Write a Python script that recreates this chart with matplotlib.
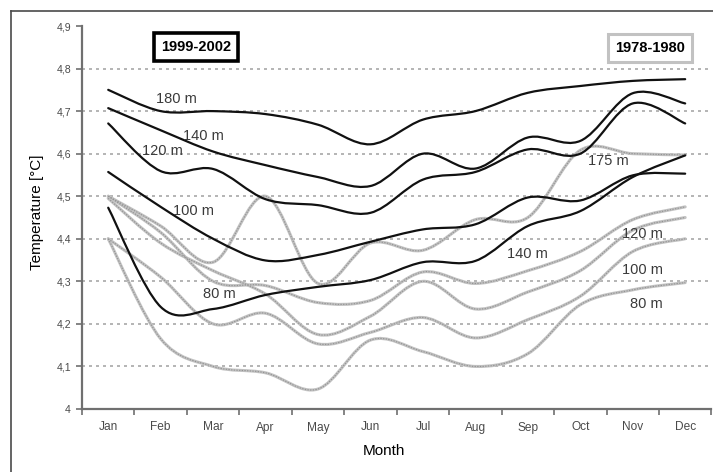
import numpy as np
import matplotlib.pyplot as plt
from matplotlib.path import Path
from matplotlib.patches import PathPatch
from matplotlib.lines import Line2D

plt.rcParams['font.family'] = ['Liberation Sans', 'DejaVu Sans']

months = ['Jan', 'Feb', 'Mar', 'Apr', 'May', 'Jun', 'Jul', 'Aug', 'Sep', 'Oct', 'Nov', 'Dec']
y_ticks = [4.0, 4.1, 4.2, 4.3, 4.4, 4.5, 4.6, 4.7, 4.8, 4.9]
y_ticklabels = ['4', '4,1', '4,2', '4,3', '4,4', '4,5', '4,6', '4,7', '4,8', '4,9']

# 1999-2002, monthly mean temperature by depth
new_180 = [4.750, 4.700, 4.700, 4.693, 4.668, 4.622, 4.680, 4.700, 4.743, 4.759, 4.771, 4.775]
new_140 = [4.707, 4.655, 4.605, 4.573, 4.545, 4.524, 4.600, 4.565, 4.638, 4.630, 4.742, 4.718]
new_120 = [4.671, 4.559, 4.564, 4.493, 4.479, 4.461, 4.539, 4.557, 4.610, 4.600, 4.718, 4.671]
new_100 = [4.557, 4.475, 4.400, 4.349, 4.362, 4.393, 4.422, 4.434, 4.497, 4.490, 4.549, 4.553]
new_80 = [4.473, 4.240, 4.235, 4.268, 4.287, 4.303, 4.345, 4.348, 4.430, 4.465, 4.545, 4.596]

# 1978-1980
old_175 = [4.500, 4.430, 4.345, 4.500, 4.295, 4.390, 4.373, 4.445, 4.450, 4.608, 4.600, 4.597]
old_140 = [4.500, 4.415, 4.300, 4.290, 4.250, 4.255, 4.322, 4.295, 4.325, 4.370, 4.445, 4.475]
old_120 = [4.495, 4.390, 4.325, 4.270, 4.175, 4.218, 4.300, 4.235, 4.275, 4.325, 4.420, 4.450]
old_100 = [4.400, 4.310, 4.200, 4.225, 4.153, 4.180, 4.215, 4.167, 4.210, 4.265, 4.370, 4.400]
old_80 = [4.400, 4.165, 4.100, 4.085, 4.047, 4.162, 4.135, 4.100, 4.130, 4.245, 4.280, 4.297]

new_series = [new_180, new_140, new_120, new_100, new_80]
old_series = [old_175, old_140, old_120, old_100, old_80]

new_labels = [('180 m', 1.31, 4.728), ('140 m', 1.82, 4.641), ('120 m', 1.03, 4.606),
              ('100 m', 1.62, 4.465), ('80 m', 2.12, 4.270)]
old_labels = [('175 m', 9.53, 4.582), ('140 m', 7.99, 4.364), ('120 m', 10.18, 4.411),
              ('100 m', 10.18, 4.326), ('80 m', 10.26, 4.246)]


def smooth_path(ys):
    # bezier curve through the monthly points (spreadsheet-style smoothed line)
    xs = np.arange(len(ys), dtype=float)
    pts = np.column_stack([xs, ys])
    ext = np.vstack([pts[0], pts, pts[-1]])
    verts = [pts[0]]
    codes = [Path.MOVETO]
    for i in range(len(pts) - 1):
        p0, p1, p2, p3 = ext[i], ext[i + 1], ext[i + 2], ext[i + 3]
        verts += [p1 + (p2 - p0) / 6, p2 - (p3 - p1) / 6, p2]
        codes += [Path.CURVE4] * 3
    return Path(verts, codes)


fig = plt.figure(figsize=(7.13, 4.72), dpi=100)
ax = fig.add_axes([82 / 713, 1 - 409 / 472, (711.4 - 82) / 713, 383 / 472])

for ys in old_series:
    p = smooth_path(ys)
    ax.add_patch(PathPatch(p, fill=False, edgecolor='#c2c2c2', lw=2.2,
                           capstyle='round', joinstyle='round', zorder=2))
    ax.add_patch(PathPatch(p, fill=False, edgecolor='#939393', lw=0.8,
                           linestyle=(0, (1.2, 1.2)), zorder=2.1))

for ys in new_series:
    ax.add_patch(PathPatch(smooth_path(ys), fill=False, edgecolor='#111111', lw=1.6,
                           capstyle='round', joinstyle='round', zorder=3))

for txt, x, y in new_labels + old_labels:
    ax.text(x, y, txt, fontsize=10.5, color='#3a3a3a', ha='center', va='center', zorder=4)

ax.set_xlim(-0.5, 11.5)
ax.set_ylim(4.0, 4.9)

ax.set_xticks(np.arange(-0.5, 12, 1))
ax.set_xticklabels([])
ax.set_xticks(range(12), labels=months, minor=True)
ax.tick_params(axis='x', which='major', length=4, width=1.2, color='#707070', direction='out')
ax.tick_params(axis='x', which='minor', length=0, pad=9, labelsize=8.6, labelcolor='#4a4a4a')

ax.set_yticks(y_ticks, labels=y_ticklabels)
ax.tick_params(axis='y', length=4, width=1.2, color='#707070', direction='out',
               pad=4, labelsize=7.6, labelcolor='#4a4a4a')

ax.grid(axis='y', color='#a8a8a8', lw=1.2, linestyle=(0, (1.8, 2.4)), zorder=0)
gl = ax.get_ygridlines()
gl[0].set_visible(False)
gl[-1].set_visible(False)
ax.set_axisbelow(True)

for side in ['top', 'right']:
    ax.spines[side].set_visible(False)
for side in ['left', 'bottom']:
    ax.spines[side].set_color('#707070')
    ax.spines[side].set_linewidth(1.6)

fig.text(384 / 713, 1 - 451 / 472, 'Month', fontsize=11, ha='center', va='center')
fig.text(37 / 713, 1 - 212 / 472, 'Temperature [°C]', fontsize=11, rotation=90,
         ha='center', va='center')

fig.text(196 / 713, 1 - 47 / 472, '1999-2002', fontsize=10.5, fontweight='bold',
         ha='center', va='center',
         bbox=dict(boxstyle='square,pad=0.5', fc='white', ec='black', lw=2.6))
fig.text(650 / 713, 1 - 48 / 472, '1978-1980', fontsize=10.5, fontweight='bold',
         ha='center', va='center',
         bbox=dict(boxstyle='square,pad=0.5', fc='white', ec='#c2c2c2', lw=2.2))

# outer chart border
fig.add_artist(Line2D([11 / 713, 11 / 713], [0, 1 - 11 / 472], transform=fig.transFigure,
                      color='#4a4a4a', lw=1.2))
fig.add_artist(Line2D([11 / 713, 1], [1 - 11 / 472, 1 - 11 / 472], transform=fig.transFigure,
                      color='#4a4a4a', lw=1.2))

fig.savefig('out.png', dpi=100)
